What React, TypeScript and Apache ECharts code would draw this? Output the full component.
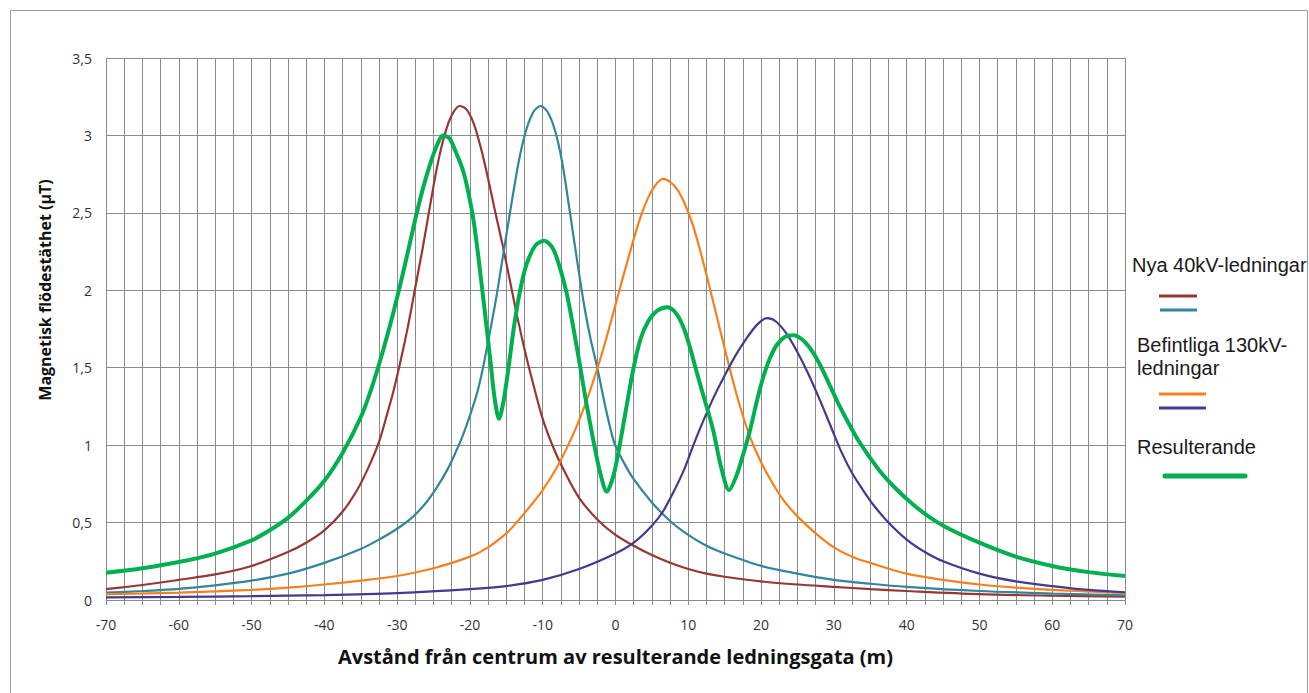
import React, { useEffect, useRef } from 'react';
import * as echarts from 'echarts';

// Nya 40kV-ledning 1 (mörkröd)
const redX = [-70, -65, -60, -55, -50, -45, -42.5, -40, -37.5, -35.5, -34, -32.5, -31.5, -30.5, -29.5, -28.5, -27.5, -26.5, -25.5, -24.5, -23.5, -22.5, -21.4, -20.5, -19.5, -18.5, -17.5, -16.5, -15.5, -14.5, -13.5, -12.5, -11.5, -10, -8.5, -7, -5, -2.5, 0, 2.5, 5, 7.5, 10, 12.5, 15, 20, 25, 30, 35, 40, 50, 60, 70];
const redY = [0.07, 0.097, 0.13, 0.165, 0.22, 0.31, 0.37, 0.45, 0.57, 0.71, 0.85, 1.02, 1.18, 1.35, 1.55, 1.77, 2.02, 2.27, 2.54, 2.8, 3.0, 3.13, 3.19, 3.17, 3.08, 2.92, 2.72, 2.5, 2.29, 2.06, 1.83, 1.62, 1.43, 1.17, 0.98, 0.83, 0.66, 0.52, 0.42, 0.35, 0.29, 0.24, 0.2, 0.17, 0.15, 0.12, 0.1, 0.085, 0.07, 0.058, 0.038, 0.028, 0.022];

// Nya 40kV-ledning 2 (blågrön)
const tealX = [-70, -65, -60, -55, -50, -45, -40, -35, -32.5, -30, -28, -26, -24.5, -23, -22, -21, -20, -19, -18.2, -17.5, -16.5, -15.5, -14.5, -13.3, -12.3, -11.3, -10.3, -9.3, -8.3, -7.3, -6.25, -5.3, -4.3, -3.4, -2.5, -1.4, -0.2, 1, 2.5, 5, 7.5, 10, 12.5, 15, 20, 25, 30, 35, 40, 50, 60, 70];
const tealY = [0.047, 0.058, 0.072, 0.095, 0.125, 0.17, 0.24, 0.33, 0.39, 0.46, 0.53, 0.63, 0.73, 0.85, 0.95, 1.06, 1.19, 1.34, 1.5, 1.67, 1.92, 2.21, 2.5, 2.83, 3.03, 3.15, 3.19, 3.15, 3.03, 2.82, 2.5, 2.2, 1.9, 1.68, 1.5, 1.25, 1.02, 0.9, 0.78, 0.63, 0.51, 0.42, 0.35, 0.3, 0.22, 0.17, 0.13, 0.105, 0.085, 0.058, 0.042, 0.03];

// Befintlig 130kV-ledning 1 (orange)
const orangeX = [-70, -60, -50, -45, -40, -35, -30, -25, -20, -17.5, -15, -13.6, -12, -10, -8, -6.5, -5, -3.5, -2, -0.5, 1, 2.5, 3.5, 4.5, 5.5, 6.5, 7.5, 8.5, 9.5, 10.5, 11.5, 12.5, 13.5, 14.5, 15.5, 16.5, 17.5, 18.5, 20, 21.5, 23, 25, 27.5, 30, 32.5, 35, 40, 45, 50, 55, 60, 65, 70];
const orangeY = [0.037, 0.047, 0.065, 0.08, 0.1, 0.125, 0.155, 0.205, 0.28, 0.34, 0.43, 0.5, 0.59, 0.71, 0.86, 1.0, 1.16, 1.35, 1.57, 1.82, 2.08, 2.33, 2.48, 2.6, 2.68, 2.72, 2.7, 2.65, 2.56, 2.44, 2.28, 2.1, 1.91, 1.72, 1.53, 1.35, 1.19, 1.05, 0.89, 0.76, 0.65, 0.54, 0.43, 0.34, 0.28, 0.24, 0.17, 0.13, 0.1, 0.08, 0.065, 0.055, 0.045];

// Befintlig 130kV-ledning 2 (lila)
const purpleX = [-70, -60, -50, -40, -30, -20, -15, -10, -5, 0, 2.5, 5, 6.5, 8, 9.5, 10.7, 12, 13.5, 15, 16.5, 18, 19.5, 20.8, 22, 23.5, 25, 26.5, 28, 29.5, 31, 32.5, 34, 35.5, 37.5, 40, 42.5, 45, 50, 55, 60, 65, 70];
const purpleY = [0.017, 0.02, 0.025, 0.032, 0.045, 0.07, 0.09, 0.13, 0.2, 0.3, 0.37, 0.48, 0.57, 0.7, 0.85, 1.0, 1.15, 1.31, 1.45, 1.58, 1.69, 1.78, 1.82, 1.8, 1.72, 1.6, 1.46, 1.3, 1.13, 0.96, 0.82, 0.71, 0.61, 0.5, 0.39, 0.31, 0.25, 0.17, 0.12, 0.09, 0.065, 0.05];

// Resulterande (grön)
const greenX = [-70, -65, -60, -55, -50, -47.5, -45, -42.5, -40, -37.5, -35, -33.5, -32, -30.5, -29, -27.5, -26.5, -25.5, -24.5, -23.7, -22.8, -22, -21, -20.3, -19.5, -18.8, -18, -17.2, -16.6, -16, -15.4, -14.7, -13.9, -13.1, -12.2, -11, -9.8, -8.6, -7.6, -6.7, -5.8, -4.9, -4, -3, -2.1, -1.2, -0.3, 0.5, 1.4, 2.4, 3.4, 4.5, 5.8, 7.2, 8.5, 9.5, 10.3, 11.1, 12.2, 13.4, 14.5, 15.6, 16.6, 17.6, 18.5, 19.5, 20.3, 21.2, 22.2, 23.3, 24.4, 25.7, 27.1, 28.3, 29.4, 30.5, 31.7, 33.5, 36.2, 38.5, 40.8, 43, 45.4, 50, 55, 60, 65, 70];
const greenY = [0.176, 0.205, 0.245, 0.3, 0.385, 0.45, 0.53, 0.64, 0.77, 0.95, 1.18, 1.37, 1.6, 1.86, 2.15, 2.46, 2.65, 2.81, 2.94, 3.0, 2.98, 2.9, 2.78, 2.65, 2.45, 2.2, 1.88, 1.55, 1.3, 1.17, 1.28, 1.5, 1.78, 2.0, 2.17, 2.29, 2.32, 2.27, 2.14, 1.98, 1.76, 1.52, 1.27, 1.02, 0.82, 0.7, 0.8, 0.98, 1.22, 1.48, 1.68, 1.8, 1.87, 1.89, 1.84, 1.74, 1.62, 1.48, 1.3, 1.1, 0.86, 0.71, 0.8, 0.95, 1.1, 1.3, 1.44, 1.56, 1.65, 1.7, 1.71, 1.68, 1.6, 1.5, 1.39, 1.28, 1.17, 1.02, 0.84, 0.72, 0.62, 0.54, 0.47, 0.37, 0.28, 0.22, 0.18, 0.155];

const xTitle = 'Avstånd från centrum av resulterande ledningsgata (m)';
const yTitle = 'Magnetisk flödestäthet (µT)';
const legendTexts = ['Nya 40kV-ledningar', 'Befintliga 130kV-', 'ledningar', 'Resulterande'];

const COLORS = {
  red: '#953735',
  teal: '#31859c',
  orange: '#f7801e',
  purple: '#47388f',
  green: '#00b050',
};

const pairs = (xs: number[], ys: number[]) => xs.map((x, i) => [x, ys[i]]);

export default function App() {
  const ref = useRef<HTMLDivElement>(null);
  useEffect(() => {
    if (!ref.current) return;
    const chart = echarts.init(ref.current, null, { renderer: 'svg' });
    const gridColor = '#8a8a8a';
    const lineSeries = (name: string, xs: number[], ys: number[], color: string, width: number) => ({
      name,
      type: 'line',
      data: pairs(xs, ys),
      smooth: 0.3,
      showSymbol: false,
      symbol: 'none',
      lineStyle: { color, width },
      itemStyle: { color },
      z: name === 'green' ? 3 : 2,
    });
    const legendFont = '"Liberation Sans", Arial, sans-serif';
    chart.setOption({
      animation: false,
      backgroundColor: '#ffffff',
      grid: { left: 106, right: 184, top: 58, bottom: 93, containLabel: false },
      xAxis: {
        type: 'value',
        min: -70,
        max: 70,
        interval: 2.5,
        name: xTitle,
        nameLocation: 'middle',
        nameGap: 46,
        nameTextStyle: { fontFamily: '"Open Sans", sans-serif', fontWeight: 'bold', fontSize: 20, color: '#111' },
        axisLine: { show: true, lineStyle: { color: gridColor, width: 1 } },
        axisTick: { show: true, inside: false, length: 5, lineStyle: { color: gridColor } },
        axisLabel: {
          margin: 17,
          fontFamily: '"Open Sans", sans-serif',
          fontSize: 14,
          color: '#333',
          formatter: (v: number) => (Math.abs(v % 10) < 1e-9 ? String(v) : ''),
        },
        splitLine: { show: true, lineStyle: { color: gridColor, width: 1 } },
      },
      yAxis: {
        type: 'value',
        min: 0,
        max: 3.5,
        interval: 0.5,
        axisLine: { show: true, lineStyle: { color: gridColor, width: 1 } },
        axisTick: { show: true, inside: false, length: 5, lineStyle: { color: gridColor } },
        axisLabel: {
          margin: 14,
          fontFamily: '"Open Sans", sans-serif',
          fontSize: 14,
          color: '#333',
          formatter: (v: number) => String(v).replace('.', ','),
        },
        splitLine: { show: true, lineStyle: { color: gridColor, width: 1 } },
      },
      series: [
        lineSeries('red', redX, redY, COLORS.red, 2.2),
        lineSeries('teal', tealX, tealY, COLORS.teal, 2.2),
        lineSeries('orange', orangeX, orangeY, COLORS.orange, 2.2),
        lineSeries('purple', purpleX, purpleY, COLORS.purple, 2.2),
        lineSeries('green', greenX, greenY, COLORS.green, 4),
      ],
      graphic: [
        { type: 'rect', shape: { x: 10.5, y: 10.5, width: 1297, height: 700 }, style: { fill: 'none', stroke: '#9a9a9a', lineWidth: 1 }, z: -10 },
        {
          type: 'text', x: 45, y: 290, rotation: Math.PI / 2,
          style: { text: yTitle, font: 'bold 16px "Open Sans", sans-serif', fill: '#111', align: 'center', verticalAlign: 'middle' },
        },
        { type: 'text', x: 1132, y: 255, style: { text: legendTexts[0], font: `20px ${legendFont}`, fill: '#1a1a1a', verticalAlign: 'top' } },
        { type: 'line', shape: { x1: 1159, y1: 296, x2: 1197, y2: 296 }, style: { stroke: COLORS.red, lineWidth: 3 } },
        { type: 'line', shape: { x1: 1160, y1: 310, x2: 1197, y2: 310 }, style: { stroke: COLORS.teal, lineWidth: 3 } },
        { type: 'text', x: 1137, y: 335, style: { text: legendTexts[1], font: `20px ${legendFont}`, fill: '#1a1a1a', verticalAlign: 'top' } },
        { type: 'text', x: 1137, y: 358, style: { text: legendTexts[2], font: `20px ${legendFont}`, fill: '#1a1a1a', verticalAlign: 'top' } },
        { type: 'line', shape: { x1: 1159, y1: 394, x2: 1206, y2: 394 }, style: { stroke: COLORS.orange, lineWidth: 3 } },
        { type: 'line', shape: { x1: 1159, y1: 408, x2: 1206, y2: 408 }, style: { stroke: COLORS.purple, lineWidth: 3 } },
        { type: 'text', x: 1137, y: 437, style: { text: legendTexts[3], font: `20px ${legendFont}`, fill: '#1a1a1a', verticalAlign: 'top' } },
        { type: 'line', shape: { x1: 1165, y1: 476, x2: 1245, y2: 476 }, style: { stroke: COLORS.green, lineWidth: 5, lineCap: 'round' } },
      ],
    });
    return () => chart.dispose();
  }, []);
  return (
    <div
      ref={ref}
      style={{ position: 'absolute', left: 0, top: 0, width: 1309, height: 693, background: '#fff' }}
    />
  );
}
